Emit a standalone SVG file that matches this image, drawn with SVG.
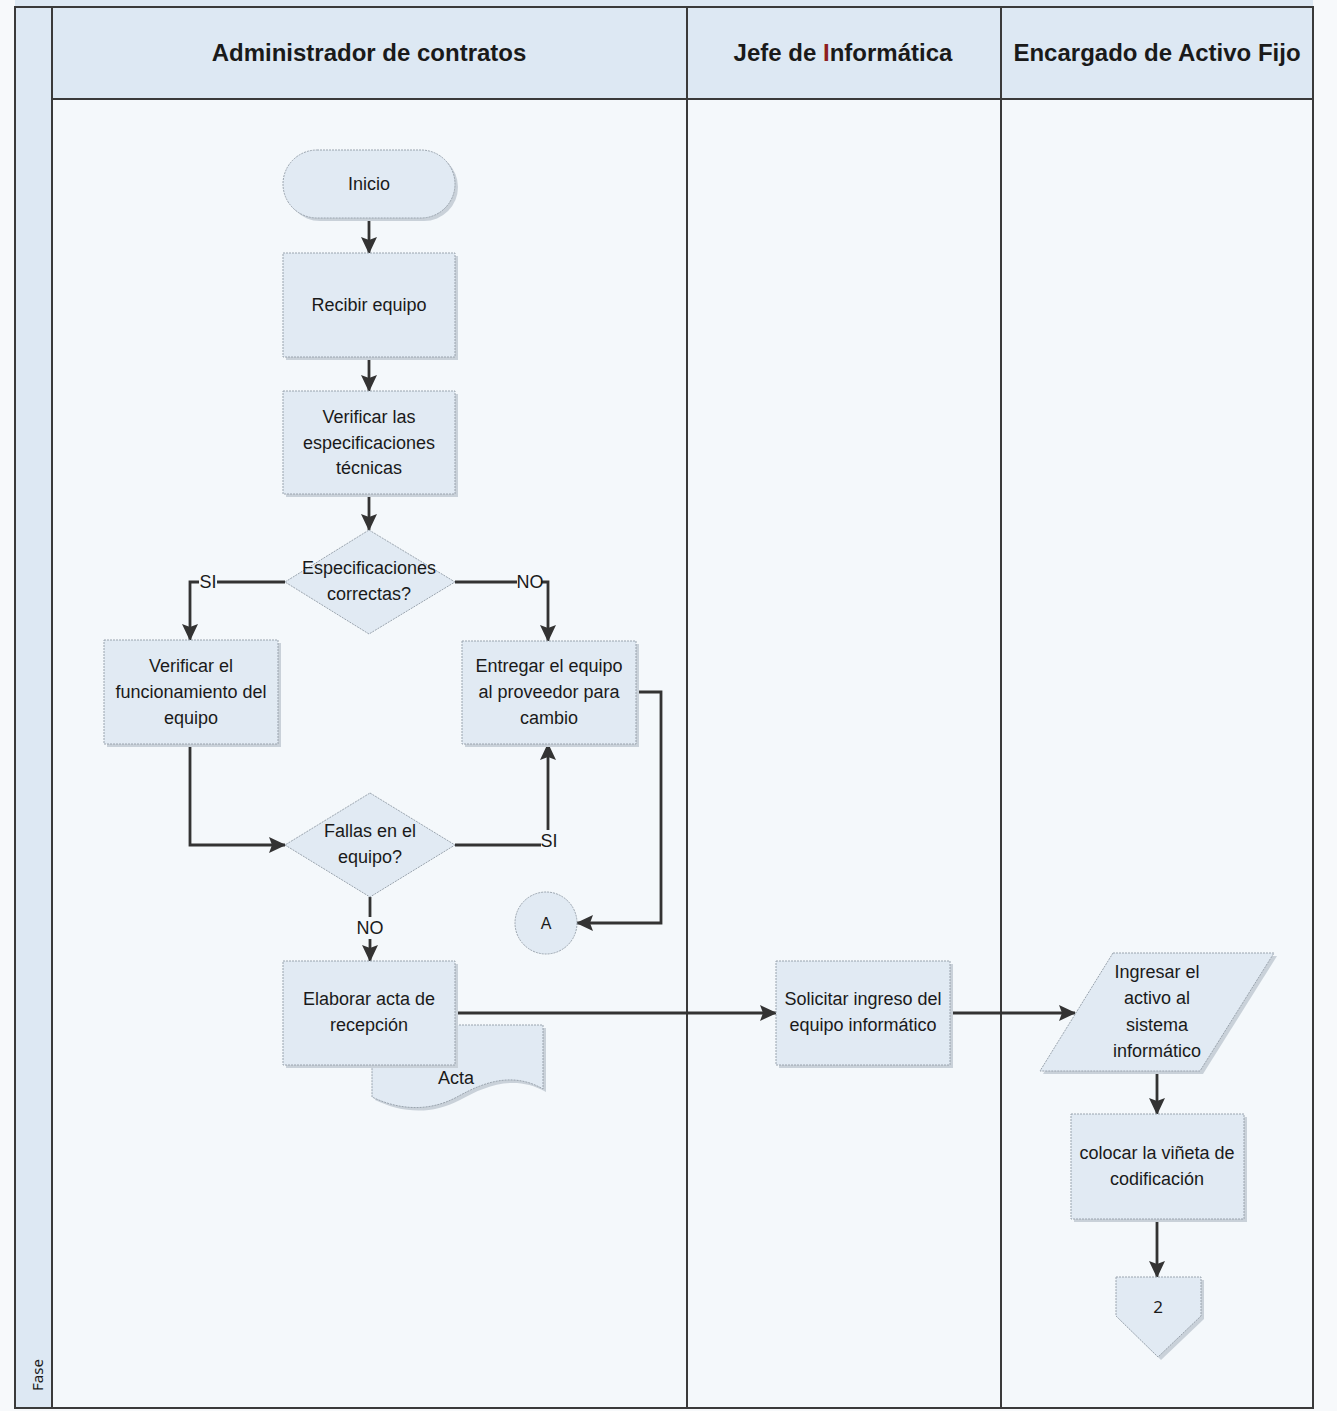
<svg xmlns="http://www.w3.org/2000/svg" width="1337" height="1411" viewBox="0 0 1337 1411">
  <style>
    .lane-head { fill: #dde8f3; }
    .lane-body { fill: #f4f8fb; }
    .frame { fill: none; stroke: #3a3a3a; stroke-width: 2; }
    .head { font-family: "Liberation Sans", Arial, sans-serif; font-weight: bold; font-size: 24px; fill: #1a1a1a; text-anchor: middle; }
    .lbl { font-family: "Liberation Sans", Arial, sans-serif; font-size: 18px; fill: #1a1a1a; text-anchor: middle; }
    .cal { font-family: "Noto Sans", "Open Sans", sans-serif; font-size: 15px; fill: #1a1a1a; text-anchor: middle; }
    .shape { fill: #e1eaf3; stroke: #9aa4ae; stroke-width: 1; stroke-dasharray: 2 1; }
    .shadow { fill: #c9d1d9; }
    .conn { fill: none; stroke: #333; stroke-width: 2.8; }
    .arr { marker-end: url(#ah); }
  </style>
  <defs>
    <marker id="ah" markerUnits="userSpaceOnUse" markerWidth="18" markerHeight="16" refX="16" refY="8" orient="auto">
      <path d="M0,0 L17,8 L0,16 L3,8 z" fill="#333"/>
    </marker>
  </defs>

  <!-- swimlane frame -->
  <g id="lanes">
    <rect x="0" y="0" width="1337" height="1411" fill="#f7f9fb"/>
    <rect x="15" y="0" width="1298" height="7" class="lane-head"/>
    <rect x="15" y="7" width="37" height="1401" class="lane-head"/>
    <rect x="52" y="7" width="1261" height="92" class="lane-head"/>
    <rect x="52" y="99" width="1261" height="1309" class="lane-body"/>
    <rect x="15" y="7" width="1298" height="1401" class="frame"/>
    <line x1="52" y1="7" x2="52" y2="1408" class="frame"/>
    <line x1="52" y1="99" x2="1313" y2="99" class="frame"/>
    <line x1="687" y1="7" x2="687" y2="1408" class="frame"/>
    <line x1="1001" y1="7" x2="1001" y2="1408" class="frame"/>
    <text class="head" x="369" y="61">Administrador de contratos</text>
    <text class="head" x="843" y="61">Jefe de <tspan fill="#8e1f1f">I</tspan>nformática</text>
    <text class="head" x="1157" y="61">Encargado de Activo Fijo</text>
    <text class="cal" transform="translate(43,1391) rotate(-90)" style="text-anchor:start">Fase</text>
  </g>

  <!-- connectors -->
  <g id="connectors">
    <line class="conn arr" x1="369" y1="218" x2="369" y2="253"/>
    <line class="conn arr" x1="369" y1="357" x2="369" y2="391"/>
    <line class="conn arr" x1="369" y1="494" x2="369" y2="530"/>
    <polyline class="conn" points="285,582 217,582"/>
    <polyline class="conn arr" points="199,582 190,582 190,640"/>
    <polyline class="conn" points="455,582 517,582"/>
    <polyline class="conn arr" points="541,582 548,582 548,641"/>
    <polyline class="conn arr" points="190,744 190,845 285,845"/>
    <polyline class="conn" points="455,845 541,845"/>
    <polyline class="conn arr" points="548,830 548,744"/>
    <polyline class="conn arr" points="636,692 661,692 661,923 577,923"/>
    <line class="conn" x1="370" y1="897" x2="370" y2="917"/>
    <line class="conn arr" x1="370" y1="939" x2="370" y2="961"/>
    <line class="conn arr" x1="455" y1="1013" x2="776" y2="1013"/>
    <line class="conn arr" x1="950" y1="1013" x2="1075" y2="1013"/>
    <line class="conn arr" x1="1157" y1="1071" x2="1157" y2="1114"/>
    <line class="conn arr" x1="1157" y1="1219" x2="1157" y2="1277"/>
    <text class="lbl" x="208" y="588">SI</text>
    <text class="lbl" x="530" y="588">NO</text>
    <text class="lbl" x="549" y="847">SI</text>
    <text class="lbl" x="370" y="934">NO</text>
  </g>

  <g id="inicio">
    <rect class="shadow" x="286" y="153" width="172" height="68" rx="34"/>
    <rect class="shape" x="283" y="150" width="172" height="68" rx="34"/>
    <text class="lbl" x="369" y="190">Inicio</text>
  </g>

  <g id="recibir-equipo">
    <rect class="shadow" x="286" y="256" width="172" height="104"/>
    <rect class="shape" x="283" y="253" width="172" height="104"/>
    <text class="lbl" x="369" y="311">Recibir equipo</text>
  </g>

  <g id="verificar-especificaciones">
    <rect class="shadow" x="286" y="394" width="172" height="103"/>
    <rect class="shape" x="283" y="391" width="172" height="103"/>
    <text class="lbl" x="369" y="423">Verificar las</text>
    <text class="lbl" x="369" y="449">especificaciones</text>
    <text class="lbl" x="369" y="474">técnicas</text>
  </g>

  <g id="especificaciones-correctas">
    <polygon class="shape" points="369,530 455,582 369,634 285,582"/>
    <text class="lbl" x="369" y="574">Especificaciones</text>
    <text class="lbl" x="369" y="600">correctas?</text>
  </g>

  <g id="verificar-funcionamiento">
    <rect class="shadow" x="107" y="643" width="174" height="104"/>
    <rect class="shape" x="104" y="640" width="174" height="104"/>
    <text class="lbl" x="191" y="672">Verificar el</text>
    <text class="lbl" x="191" y="698">funcionamiento del</text>
    <text class="lbl" x="191" y="724">equipo</text>
  </g>

  <g id="entregar-equipo">
    <rect class="shadow" x="465" y="644" width="174" height="103"/>
    <rect class="shape" x="462" y="641" width="174" height="103"/>
    <text class="lbl" x="549" y="672">Entregar el equipo</text>
    <text class="lbl" x="549" y="698">al proveedor para</text>
    <text class="lbl" x="549" y="724">cambio</text>
  </g>

  <g id="fallas-equipo">
    <polygon class="shape" points="370,793 455,845 370,897 285,845"/>
    <text class="lbl" x="370" y="837">Fallas en el</text>
    <text class="lbl" x="370" y="863">equipo?</text>
  </g>

  <g id="conector-a">
    <circle class="shape" cx="546" cy="923" r="31"/>
    <text class="lbl" x="546" y="929" style="font-size:16px">A</text>
  </g>

  <g id="acta">
    <path class="shadow" d="M375,1028 H546 V1092 C515,1074 485,1086 460,1100 C430,1116 400,1112 375,1100 Z"/>
    <path class="shape" d="M372,1025 H543 V1089 C512,1071 482,1083 457,1097 C427,1113 397,1109 372,1097 Z"/>
    <text class="lbl" x="456" y="1084">Acta</text>
  </g>

  <g id="elaborar-acta">
    <rect class="shadow" x="286" y="964" width="172" height="104"/>
    <rect class="shape" x="283" y="961" width="172" height="104"/>
    <text class="lbl" x="369" y="1005">Elaborar acta de</text>
    <text class="lbl" x="369" y="1031">recepción</text>
  </g>

  <g id="solicitar-ingreso">
    <rect class="shadow" x="779" y="964" width="174" height="104"/>
    <rect class="shape" x="776" y="961" width="174" height="104"/>
    <text class="lbl" x="863" y="1005">Solicitar ingreso del</text>
    <text class="lbl" x="863" y="1031">equipo informático</text>
  </g>

  <g id="ingresar-activo">
    <polygon class="shadow" points="1116,956 1277,956 1203,1074 1043,1074"/>
    <polygon class="shape" points="1113,953 1274,953 1200,1071 1040,1071"/>
    <text class="lbl" x="1157" y="978">Ingresar el</text>
    <text class="lbl" x="1157" y="1004">activo al</text>
    <text class="lbl" x="1157" y="1031">sistema</text>
    <text class="lbl" x="1157" y="1057">informático</text>
  </g>

  <g id="colocar-vineta">
    <rect class="shadow" x="1074" y="1117" width="173" height="105"/>
    <rect class="shape" x="1071" y="1114" width="173" height="105"/>
    <text class="lbl" x="1157" y="1159">colocar la viñeta de</text>
    <text class="lbl" x="1157" y="1185">codificación</text>
  </g>

  <g id="conector-2">
    <polygon class="shadow" points="1119,1280 1204,1280 1204,1319 1161,1360 1119,1319"/>
    <polygon class="shape" points="1116,1277 1201,1277 1201,1316 1158,1357 1116,1316"/>
    <text class="cal" x="1158" y="1313" style="font-size:17px">2</text>
  </g>
</svg>
